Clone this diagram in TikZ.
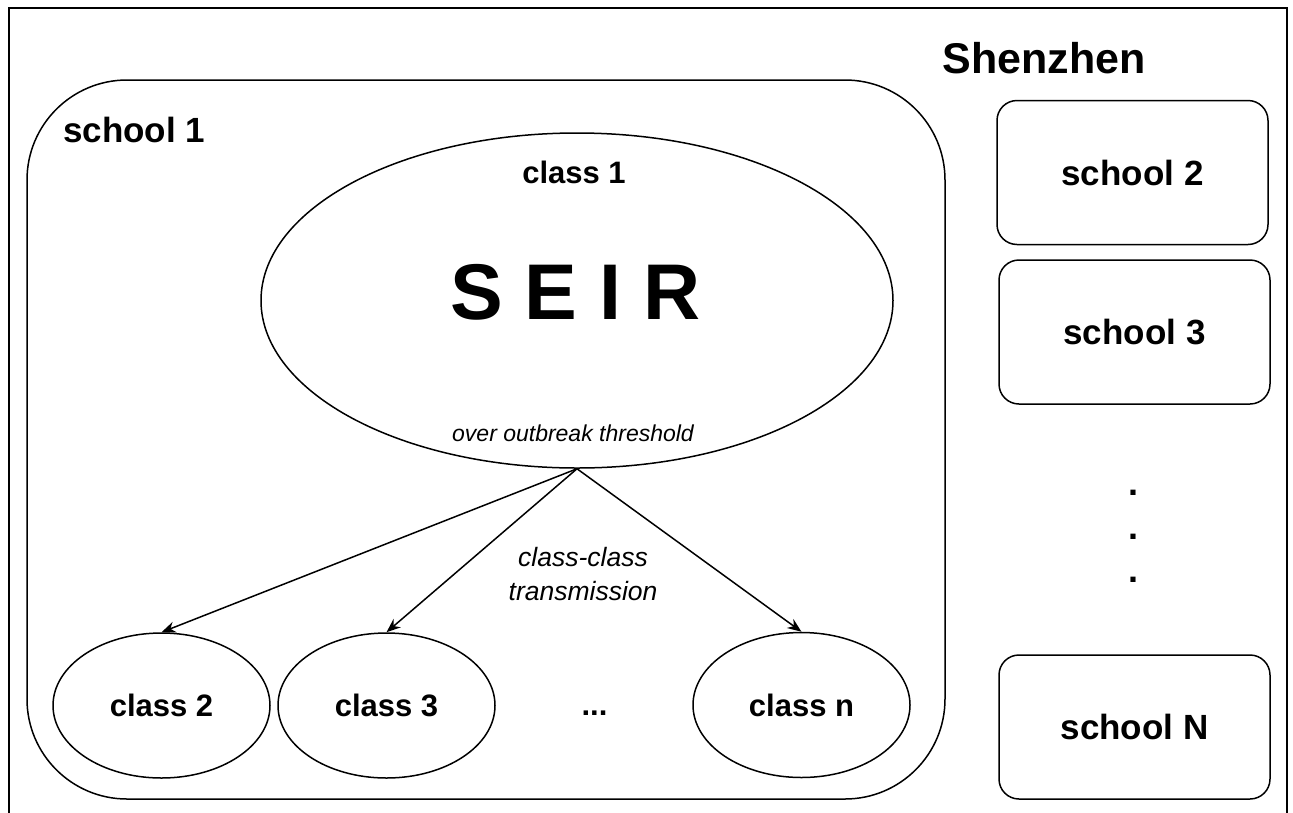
\documentclass[tikz,border=0pt]{standalone}
\usepackage{fontspec}
\setmainfont{Liberation Sans}
\usetikzlibrary{shapes.geometric,arrows.meta}
\tikzset{
  lbl/.style={font=\bfseries\fontsize{#1}{\dimexpr #1pt*6/5\relax}\selectfont, inner sep=0pt},
  itl/.style={font=\itshape\fontsize{#1}{\dimexpr #1pt*6/5\relax}\selectfont, inner sep=0pt},
  cls/.style={draw, ellipse, line width=1.5pt, inner sep=0pt, minimum width=217pt, minimum height=145pt},
  schoolbox/.style={draw, rounded corners=20pt, line width=1.5pt, minimum width=271pt, minimum height=144pt, inner sep=0pt},
  arr/.style={-{Stealth[length=14pt,width=11pt,inset=4.5pt]}, line width=1.5pt},
  dotn/.style={font=\bfseries\fontsize{36}{40}\selectfont, inner sep=0pt}
}
\begin{document}
\begin{tikzpicture}[x=1pt,y=-1pt]
\useasboundingbox (0,0) rectangle (1293,812);
\clip (0,0) rectangle (1293,812);
\draw[line width=2pt] (9,8) rectangle (1287,820);
% school 1 container
\node[draw, rounded corners=100pt, line width=1.5pt, minimum width=918pt, minimum height=719pt, inner sep=0pt] (s1) at (486,439.5) {};
\node[lbl=35, anchor=base west] (s1lbl) at (63,142) {school 1};
% class 1
\node[draw, ellipse, line width=1.5pt, inner sep=0pt, minimum width=632pt, minimum height=335pt] (c1) at (577,300.5) {};
\node[lbl=31] (c1lbl) at (574,172) {class 1};
\node[lbl=79] (seir) at (575.5,292) {S E I R};
\node[itl=23] (thr) at (573,433) {over outbreak threshold};
% other classes
\node[cls] (c2) at (161.5,705.5) {};
\node[lbl=31] at (c2) {class 2};
\node[cls] (c3) at (386.5,705.5) {};
\node[lbl=31] at (c3) {class 3};
\node[cls] (cn) at (801.5,705) {};
\node[lbl=31] at (cn) {class n};
\node[lbl=31] (dots) at (594.5,713) {...};
% arrows
\draw[arr] (c1.south) -- (c2.north);
\draw[arr] (c1.south) -- (c3.north);
\draw[arr] (c1.south) -- (cn.north);
\node[itl=26.5, align=center] (tr) at (583,574) {class-class\\[3pt]transmission};
% right side
\node[lbl=43] (sz) at (1044,58) {Shenzhen};
\node[schoolbox] (s2) at (1132.5,172.5) {};
\node[lbl=35] at (s2) {school 2};
\node[schoolbox] (s3) at (1134.5,332) {};
\node[lbl=35] at (s3) {school 3};
\node[schoolbox] (sN) at (1134.5,727) {};
\node[lbl=35] at (sN) {school N};
\node[dotn] (d1) at (1133,493) {.};
\node[dotn] (d2) at (1133,537) {.};
\node[dotn] (d3) at (1133,580) {.};
\end{tikzpicture}
\end{document}
